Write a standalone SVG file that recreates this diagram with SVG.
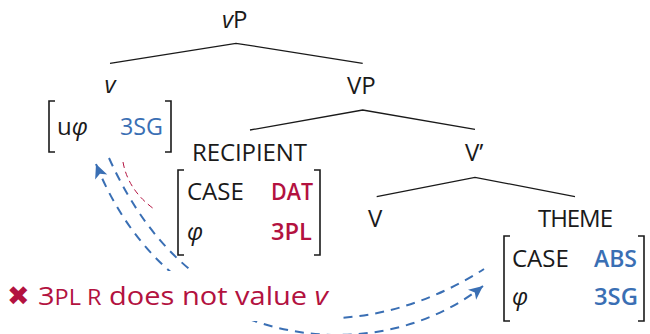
<svg xmlns="http://www.w3.org/2000/svg" width="650" height="334" viewBox="0 0 650 334">
  <style>
    .lbl { font-family: "Open Sans", "Noto Sans", "DejaVu Sans", sans-serif; font-size: 24px; font-weight: 400; fill: #1a1a1a; }
    .it { font-style: italic; }
    .blue { fill: #3a6fb4; font-weight: 500; }
    .blueb { fill: #3a6fb4; font-weight: 600; }
    .red { fill: #b3123f; font-weight: 600; }
    .branch { stroke: #1a1a1a; stroke-width: 1.3; fill: none; }
    .brk { stroke: #1a1a1a; stroke-width: 1.6; fill: none; }
    .agree { stroke: #3a6fb4; stroke-width: 2; fill: none; stroke-dasharray: 9 7; }
    .fail { stroke: #b3123f; stroke-width: 1; fill: none; stroke-dasharray: 6 4; }
  </style>
  <defs>
    <marker id="ah" viewBox="-15 -8 16 16" markerWidth="16" markerHeight="16" refX="0" refY="0" orient="auto-start-reverse" markerUnits="userSpaceOnUse">
      <path d="M0,0 L-14,-6.5 L-10.5,0 L-14,6.5 Z" fill="#3a6fb4"/>
    </marker>
  </defs>
  <rect width="650" height="334" fill="#ffffff"/>

  <!-- tree branches and agreement arcs (the message box covers part of the arcs) -->
  <g id="connectors">
    <path class="branch" d="M110,63.3 L236,43.3 L362.7,63.3"/>
    <path class="branch" d="M250,130 L362.7,110 L475,129.3"/>
    <path class="branch" d="M376.7,196.7 L475,177.3 L575,196.7"/>
    <path class="agree" d="M96,164 C170,349 373,374 483,286" marker-start="url(#ah)" marker-end="url(#ah)"/>
    <path class="agree" d="M109,158 C199,358 374,340 484,269"/>
    <path class="fail" d="M123,162 Q128,190 154,209"/>
  </g>

  <g id="vP">
    <text class="lbl" x="222" y="28"><tspan class="it">v</tspan>P</text>
  </g>

  <g id="v">
    <text class="lbl it" x="110" y="93" text-anchor="middle">v</text>
    <path class="brk" d="M55,101 H49 V152 H55"/>
    <path class="brk" d="M165,101 H171 V152 H165"/>
    <text class="lbl" x="57" y="135">u<tspan class="it">φ</tspan></text>
    <text class="lbl blue" x="120" y="135" textLength="43" lengthAdjust="spacingAndGlyphs">3SG</text>
  </g>

  <g id="VP">
    <text class="lbl" x="347" y="94">VP</text>
  </g>

  <g id="recipient">
    <text class="lbl" x="192" y="161" textLength="115" lengthAdjust="spacing">RECIPIENT</text>
    <path class="brk" d="M184,170 H178 V255 H184"/>
    <path class="brk" d="M314,170 H320 V255 H314"/>
    <text class="lbl" x="187" y="200">CASE</text>
    <text class="lbl red" x="271" y="200" textLength="42" lengthAdjust="spacingAndGlyphs">DAT</text>
    <text class="lbl it" x="187" y="240">φ</text>
    <text class="lbl red" x="271" y="240" textLength="41" lengthAdjust="spacingAndGlyphs">3PL</text>
  </g>

  <g id="Vbar">
    <text class="lbl" x="465" y="161">V’</text>
  </g>

  <g id="V">
    <text class="lbl" x="368" y="227">V</text>
  </g>

  <g id="theme">
    <text class="lbl" x="538" y="227" textLength="75" lengthAdjust="spacing">THEME</text>
    <path class="brk" d="M510,236 H504 V321 H510"/>
    <path class="brk" d="M638,236 H644 V321 H638"/>
    <text class="lbl" x="512" y="267">CASE</text>
    <text class="lbl blueb" x="594" y="267" textLength="43" lengthAdjust="spacingAndGlyphs">ABS</text>
    <text class="lbl it" x="512" y="305">φ</text>
    <text class="lbl blueb" x="594" y="305" textLength="44" lengthAdjust="spacingAndGlyphs">3SG</text>
  </g>

  <g id="message">
    <rect x="0" y="271" width="338" height="50" fill="#ffffff"/>
    <text x="7" y="305" font-family="'DejaVu Sans', sans-serif" font-size="27" fill="#b3123f">✖</text>
    <text x="38" y="305" font-family="'Open Sans', 'Noto Sans', sans-serif" font-size="26" fill="#b3123f" textLength="290" lengthAdjust="spacingAndGlyphs">3<tspan font-size="21">PL R</tspan> does not value <tspan font-style="italic">v</tspan></text>
  </g>
</svg>
